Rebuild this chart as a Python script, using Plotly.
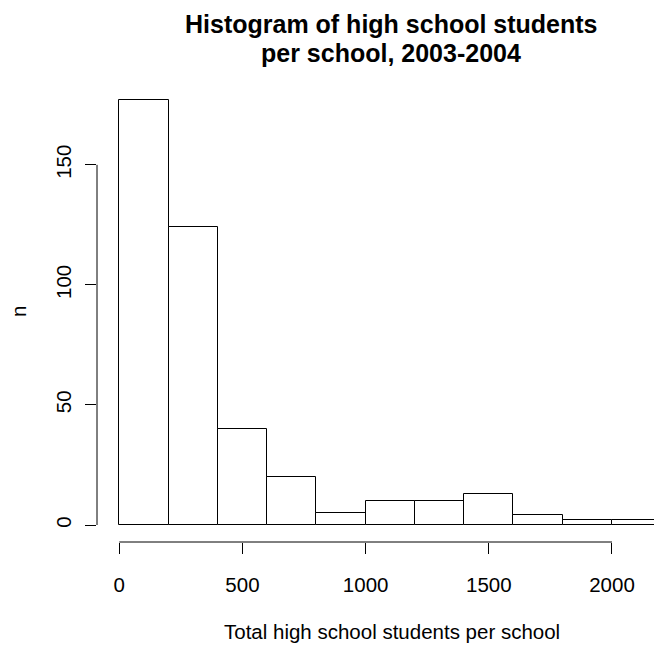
import plotly.graph_objects as go

# Data
bin_start = 0
bin_width = 200
counts = [177, 124, 40, 20, 5, 10, 10, 13, 4, 2, 2]
x_ticks = [0, 500, 1000, 1500, 2000]
y_ticks = [0, 50, 100, 150]

title_lines = ["Histogram of high school students", "per school, 2003-2004"]
x_title = "Total high school students per school"
y_title = "n"

centers = [bin_start + bin_width * (i + 0.5) for i in range(len(counts))]

FONT = "Liberation Sans, Arial, Helvetica, sans-serif"
FS = 20.5
TFS = 25

# page body has an 8px margin; figure is placed at (8, 8)
OFF = 8
W, H = 662 - OFF, 646 - OFF
PL, PR, PT, PB = 97, 662, 83, 542  # plot area in window pixels
L, R, T, B = PL - OFF, 0, PT - OFF, 646 - PB

fig = go.Figure()
fig.add_trace(go.Bar(
    x=centers, y=counts, width=[bin_width] * len(counts),
    marker=dict(color="white", line=dict(color="black", width=1)),
    showlegend=False, hoverinfo="skip",
))

ymax = max(counts)
fig.update_layout(
    width=W, height=H,
    margin=dict(l=L, r=R, t=T, b=B),
    paper_bgcolor="white", plot_bgcolor="white",
    font=dict(family=FONT, size=FS, color="black"),
    bargap=0,
    xaxis=dict(range=[-90.5, 2203], tickvals=x_ticks, ticktext=[str(v) for v in x_ticks],
               ticks="outside", ticklen=11, tickwidth=1, tickcolor="black",
               showgrid=False, zeroline=False, showline=False,
               ticklabelstandoff=13, fixedrange=True),
    yaxis=dict(range=[-0.04 * ymax, 1.04 * ymax], tickvals=y_ticks, ticktext=[str(v) for v in y_ticks],
               ticks="outside", ticklen=11, tickwidth=1, tickcolor="black",
               tickangle=-90, showgrid=False, zeroline=False, showline=False,
               ticklabelstandoff=6, fixedrange=True),
)

# R-style axis lines spanning first to last tick
fig.add_shape(type="line", xref="x", yref="paper", x0=x_ticks[0], x1=x_ticks[-1], y0=0, y1=0,
              line=dict(color="black", width=1))
fig.add_shape(type="line", xref="paper", yref="y", x0=0, x1=0, y0=y_ticks[0], y1=y_ticks[-1],
              line=dict(color="black", width=1))

plot_w = PR - PL
plot_h = PB - PT

def px_x(x):
    return (x - PL) / plot_w

def px_y(y):
    return (PB - y) / plot_h

# two bold title lines; first one hangs from the top of the figure
for line, ty in zip(title_lines, [9, 38]):
    fig.add_annotation(text="<b>" + line + "</b>", xref="paper", yref="paper",
                       x=px_x(391), y=px_y(ty), xanchor="center", yanchor="top",
                       showarrow=False, borderpad=0,
                       font=dict(family=FONT, size=TFS, color="black"))

fig.add_annotation(text=x_title, xref="paper", yref="paper",
                   x=px_x(392), y=px_y(631),
                   xanchor="center", yanchor="middle", showarrow=False,
                   font=dict(family=FONT, size=FS, color="black"))
fig.add_annotation(text=y_title, xref="paper", yref="paper",
                   x=px_x(18), y=px_y(312),
                   xanchor="center", yanchor="middle", showarrow=False, textangle=-90,
                   borderpad=0,
                   font=dict(family=FONT, size=FS, color="black"))

fig.write_html("out.html")
